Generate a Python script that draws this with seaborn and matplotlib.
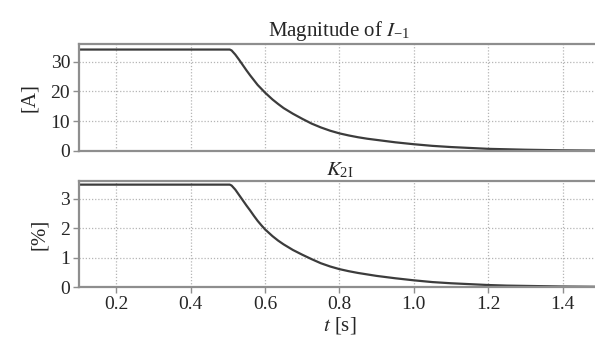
import numpy as np
import pandas as pd
import matplotlib
matplotlib.use("Agg")
import matplotlib.pyplot as plt
import seaborn as sns

# ---- data ----
t_vals = [0.10, 0.30, 0.505, 0.51, 0.52, 0.53, 0.54, 0.55, 0.56, 0.57,
          0.58, 0.59, 0.60, 0.62, 0.635, 0.65, 0.675, 0.70, 0.725, 0.75,
          0.775, 0.80, 0.825, 0.85, 0.875, 0.90, 0.95, 1.00, 1.05, 1.10,
          1.15, 1.20, 1.25, 1.30, 1.40, 1.50]
i_neg = [34.1, 34.1, 34.1, 33.8, 32.4, 30.7, 28.9, 27.1, 25.4, 23.8,
         22.2, 20.9, 19.6, 17.3, 15.8, 14.4, 12.5, 10.8, 9.2, 7.9,
         6.8, 5.9, 5.2, 4.6, 4.1, 3.7, 2.9, 2.25, 1.7, 1.3,
         1.0, 0.7, 0.55, 0.4, 0.2, 0.1]
k2i = [3.48, 3.48, 3.48, 3.45, 3.31, 3.13, 2.95, 2.77, 2.60, 2.42,
       2.25, 2.10, 1.96, 1.73, 1.58, 1.45, 1.26, 1.10, 0.95, 0.81,
       0.70, 0.61, 0.54, 0.48, 0.43, 0.38, 0.30, 0.23, 0.17, 0.13,
       0.10, 0.07, 0.05, 0.04, 0.02, 0.01]

x_ticks = [0.2, 0.4, 0.6, 0.8, 1.0, 1.2, 1.4]
x_ticklabels = ["0.2", "0.4", "0.6", "0.8", "1.0", "1.2", "1.4"]
top_yticks = [0, 10, 20, 30]
bot_yticks = [0, 1, 2, 3]

df = pd.DataFrame({"t": t_vals, "I": i_neg, "K": k2i})

sns.set_theme(style="white")
plt.rcParams["font.family"] = ["Liberation Serif", "DejaVu Serif"]
plt.rcParams["mathtext.fontset"] = "stix"

fig = plt.figure(figsize=(5.95, 3.43), dpi=100)
ax1 = fig.add_axes([0.133, 0.560, 0.875, 0.312])
ax2 = fig.add_axes([0.133, 0.163, 0.875, 0.309])

line_c = "#3c3c3c"
spine_c = "#8e8e8e"
grid_c = "#b5b5b5"

sns.lineplot(data=df, x="t", y="I", ax=ax1, color=line_c, linewidth=1.6)
sns.lineplot(data=df, x="t", y="K", ax=ax2, color=line_c, linewidth=1.6)

for ax, ylim, yt, ylab in [(ax1, (0, 36), top_yticks, "[A]"),
                           (ax2, (0, 3.6), bot_yticks, "[%]")]:
    ax.set_xlim(0.1, 1.5)
    ax.set_ylim(*ylim)
    ax.set_yticks(yt)
    ax.set_xticks(x_ticks)
    ax.grid(True, linestyle=(0, (1, 1.5)), color=grid_c, linewidth=0.9)
    for s in ["left", "bottom", "top"]:
        ax.spines[s].set_color(spine_c)
        ax.spines[s].set_linewidth(1.6)
    ax.spines["right"].set_visible(False)
    ax.tick_params(axis="y", which="both", left=True, length=4.5, width=1.0,
                   color=spine_c, labelsize=14, pad=2)
    ax.set_ylabel(ylab, fontsize=15, labelpad=8)
    ax.set_xlabel("")

ax1.tick_params(axis="x", bottom=False, labelbottom=False)
ax2.tick_params(axis="x", bottom=True, length=4.5, width=1.0, color=spine_c,
                labelsize=14, pad=2)
ax2.set_xticklabels(x_ticklabels)

ax1.set_title(r"Magnitude of $I_{\mathregular{-1}}$", fontsize=15, pad=6)
ax2.set_title(r"$K_{\mathregular{2I}}$", fontsize=15, pad=4)
ax2.set_xlabel(r"$t$ [s]", fontsize=15, labelpad=1)

fig.savefig("out.png", dpi=100)
